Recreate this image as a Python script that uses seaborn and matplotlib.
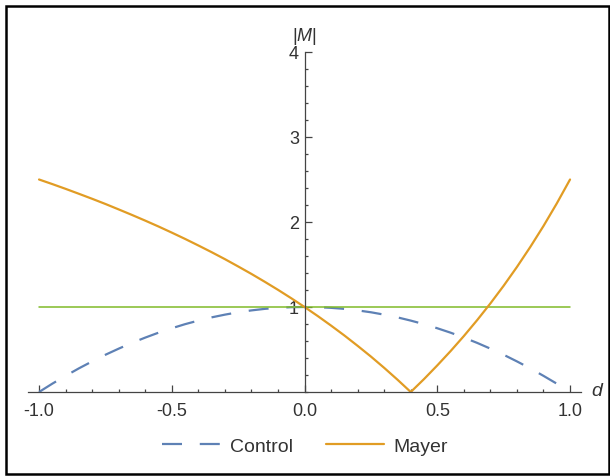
import matplotlib
matplotlib.use("Agg")
import matplotlib.pyplot as plt
import seaborn as sns
from matplotlib.patches import Rectangle
from matplotlib.ticker import MultipleLocator, FixedLocator

# -------------------------
# Data
# -------------------------
d_values = [-1.0, -0.95, -0.9, -0.85, -0.8, -0.75, -0.7, -0.65, -0.6, -0.55,
            -0.5, -0.45, -0.4, -0.35, -0.3, -0.25, -0.2, -0.15, -0.1, -0.05,
            0.0, 0.05, 0.1, 0.15, 0.2, 0.25, 0.3, 0.35, 0.4, 0.45,
            0.5, 0.55, 0.6, 0.65, 0.7, 0.75, 0.8, 0.85, 0.9, 0.95, 1.0]
control = [0.0, 0.098, 0.19, 0.278, 0.36, 0.438, 0.51, 0.578, 0.64, 0.698,
           0.75, 0.798, 0.84, 0.878, 0.91, 0.938, 0.96, 0.978, 0.99, 0.998,
           1.0, 0.998, 0.99, 0.978, 0.96, 0.938, 0.91, 0.878, 0.84, 0.798,
           0.75, 0.698, 0.64, 0.578, 0.51, 0.438, 0.36, 0.278, 0.19, 0.098, 0.0]
mayer = [2.5, 2.446, 2.390, 2.332, 2.273, 2.212, 2.148, 2.083, 2.016, 1.947,
         1.875, 1.801, 1.724, 1.645, 1.563, 1.477, 1.389, 1.297, 1.202, 1.103,
         1.0, 0.893, 0.781, 0.665, 0.543, 0.417, 0.284, 0.145, 0.0, 0.152,
         0.313, 0.481, 0.658, 0.845, 1.042, 1.250, 1.471, 1.705, 1.953, 2.218, 2.5]
ref_d = [-1.0, 1.0]
ref_level = [1.0, 1.0]

x_ticks = [-1.0, -0.5, 0.0, 0.5, 1.0]
x_labels = ["-1.0", "-0.5", "0.0", "0.5", "1.0"]
y_ticks = [1, 2, 3, 4]

# -------------------------
# Style
# -------------------------
sns.set_style("white")
plt.rcParams["font.family"] = ["Liberation Sans", "DejaVu Sans"]
plt.rcParams["mathtext.fontset"] = "custom"
plt.rcParams["mathtext.it"] = "Liberation Sans:italic"
plt.rcParams["mathtext.rm"] = "Liberation Sans"

blue = "#5E81B5"
orange = "#E19C24"
green = "#80BB28"
axis_col = "#444444"
text_col = "#333333"

fig = plt.figure(figsize=(6.1, 4.77), dpi=100)
ax = fig.add_axes([0.0466, 0.1761, 0.9053, 0.7128])

sns.lineplot(x=d_values, y=control, ax=ax, color=blue, linewidth=1.6,
             linestyle=(0, (9, 8)), label="Control")
sns.lineplot(x=ref_d, y=ref_level, ax=ax, color=green, linewidth=1.1)
sns.lineplot(x=d_values, y=mayer, ax=ax, color=orange, linewidth=1.6,
             label="Mayer")
ax.get_legend().remove()

ax.set_xlim(-1.04, 1.04)
ax.set_ylim(0, 4)

# axes through the origin
ax.spines["left"].set_position(("data", 0))
ax.spines["bottom"].set_position(("data", 0))
ax.spines["top"].set_visible(False)
ax.spines["right"].set_visible(False)
for s in ["left", "bottom"]:
    ax.spines[s].set_color(axis_col)
    ax.spines[s].set_linewidth(0.9)

ax.xaxis.set_major_locator(FixedLocator(x_ticks))
ax.set_xticklabels(x_labels)
ax.xaxis.set_minor_locator(MultipleLocator(0.1))
ax.yaxis.set_major_locator(FixedLocator(y_ticks))
ax.yaxis.set_minor_locator(MultipleLocator(0.2))

ax.tick_params(which="both", direction="in", color=axis_col, width=0.9,
               bottom=True, left=True, top=False, right=False)
ax.tick_params(which="major", length=5)
ax.tick_params(which="minor", length=2.5)
ax.tick_params(axis="x", which="major", pad=7, labelsize=13, labelcolor=text_col)
ax.tick_params(axis="y", which="major", pad=4, labelsize=13, labelcolor=text_col)

ax.set_xlabel("")
ax.set_ylabel("")
ax.annotate("$d$", xy=(1.04, 0), xycoords="data", xytext=(12, 1),
            textcoords="offset points", ha="center", va="center",
            fontsize=14, color=text_col)
ax.annotate("|$M$|", xy=(0, 4), xycoords="data", xytext=(0, 12),
            textcoords="offset points", ha="center", va="center",
            fontsize=13, color=text_col)

# legend below
lines = ax.get_lines()
fig.legend([lines[0], lines[2]], ["Control", "Mayer"], loc="center",
           bbox_to_anchor=(0.5, 0.063), ncol=2, frameon=False,
           fontsize=14, handlelength=3.0, handletextpad=0.5,
           columnspacing=1.7, labelcolor=text_col)

# outer frame
fig.patches.append(Rectangle((6 / 610, 2 / 477), 603 / 610, 468 / 477,
                             transform=fig.transFigure, fill=False,
                             edgecolor="black", linewidth=1.8))

plt.savefig("out.png", dpi=100)
